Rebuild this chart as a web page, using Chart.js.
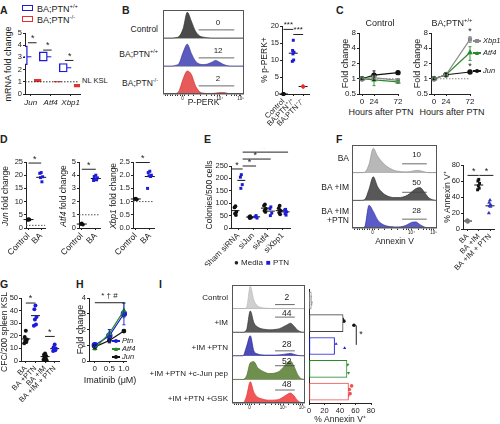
<!DOCTYPE html>
<html><head><meta charset="utf-8">
<script src="https://cdn.jsdelivr.net/npm/chart.js@4.4.1/dist/chart.umd.min.js"></script>
<style>
body{margin:0;width:500px;height:424px;position:relative;background:#fff;font-family:'Liberation Sans',Arial,sans-serif;color:#222;overflow:hidden}
canvas{position:absolute}
.t{position:absolute;white-space:nowrap;font-size:7px;line-height:1}
sup{font-size:65%;vertical-align:top;position:relative;top:-1px}
</style></head><body>
<script>
// ===== DATA =====
// A
const aGenes = ['Jun','Atf4','Xbp1'];
const aWtLow = [2.4, 2.7, 1.8];
const aWtHigh = [3.95, 3.45, 2.5];
const aWtMean = [3.05, 3.05, 2.15];
const aKoLow = [1.0, 0.96, 0.55];
const aKoHigh = [1.2, 1.04, 0.8];
// B
const bGroups = ['Control','BA;PTN\u207A/\u207A','BA;PTN\u207B/\u207B'];
const bCtrl = [0,0,0,0,0];
const bWt = [15.8,12.8,12.3,11.8,10,9.6];
const bKo = [2.3,2.2,2.1];
const bMeans = [0,12,2.2];
const bPct = ['0','12','2'];
const histBins = [0,5,10,15,20,25,30,35,40,45,50,55,60,65,70,75,80,85,90,95,100];
const bHistCtrl = [0,0,0,0.01,0.06,0.35,0.92,0.6,0.25,0.08,0.03,0.01,0,0,0,0,0,0,0,0,0];
const bHistWt   = [0,0,0,0.02,0.1,0.5,0.78,0.45,0.18,0.07,0.05,0.07,0.13,0.2,0.13,0.05,0.01,0,0,0,0];
const bHistKo   = [0,0,0,0.01,0.12,0.55,0.82,0.7,0.3,0.09,0.03,0.02,0.02,0.03,0.05,0.05,0.02,0,0,0,0];
// C
const cHours = [0,24,72];
const cTicks = [0.5,1,2,4,8];
const cCtrlXbp1 = [1.0,1.05,0.93], cCtrlXbp1Err = [0.03,0.1,0.08];
const cCtrlAtf4 = [1.0,0.95,0.87], cCtrlAtf4Err = [0.03,0.22,0.06];
const cCtrlJun  = [1.0,1.18,1.32], cCtrlJunErr  = [0.03,0.25,0.06];
const cBaXbp1 = [1.0,1.2,6.0], cBaXbp1Err = [0.03,0.1,0.8];
const cBaAtf4 = [1.0,1.2,3.3], cBaAtf4Err = [0.03,0.1,1.0];
const cBaJun  = [1.0,1.2,1.36], cBaJunErr = [0.03,0.08,0.06];
// D
const dGroups = ['Control','BA'];
const dJunCtrl = [3.4,3.2,3.1,3.0,3.3], dJunBA = [21,20.7,19.4,19.1,17.5], dJunMean = [3.2,19.2];
const dAtf4Ctrl = [0.35,0.3,0.25,0.3,0.28], dAtf4BA = [4.0,3.9,3.8,3.7,3.65,3.6], dAtf4Mean = [0.3,3.75];
const dXbp1Ctrl = [1.12,1.1,1.08,1.1,1.09], dXbp1BA = [2.15,2.1,2.0,1.98,1.95,1.5], dXbp1Mean = [1.1,1.95];
// E
const eGroups = ['Sham siRNA','siJun','siAtf4','siXbp1'];
const eMedia = [[88,83,65,58,52],[48,45,42,40],[95,90,78,70,65],[90,80,70,62,55]];
const ePtn = [[215,205,175,160],[50,45,40],[85,78,60,50],[75,72,65,58,52]];
const eMediaMean = [70,44,80,70];
const ePtnMean = [192,45,68,65];
// F
const fPct = ['10','50','28'];
const fHistBA  = [0,0,0,0.02,0.3,0.88,0.6,0.4,0.25,0.15,0.08,0.05,0.03,0.03,0.05,0.08,0.07,0.03,0,0,0];
const fHistIM  = [0,0,0,0.03,0.4,0.85,0.5,0.3,0.18,0.12,0.1,0.1,0.12,0.18,0.3,0.42,0.46,0.3,0.1,0.02,0];
const fHistPTN = [0,0,0,0.05,0.82,0.6,0.3,0.15,0.08,0.05,0.04,0.04,0.06,0.12,0.2,0.22,0.12,0.04,0,0,0];
const fGroups = ['BA','BA +IM','BA +IM + PTN'];
const fBA = [11,10.5,10,9.5,9], fIM = [62,60,57,54,51,49], fPTN = [36,33,30,29,28,20];
const fMeans = [10,55,29];
// G
const gGroups = ['BA','BA +PTN','BA +IM','BA +IM + PTN'];
const gVals = [[24,19,17,16,15,14],[44,41,35,33,29,28],[6,5,4,3,2,1,0.5],[13,11,10,9,8.5,8]];
const gMeans = [17.5,36,3.5,9.8];
// H
const hDose = [0,0.5,1];
const hPtn = [1.0,1.6,3.0], hPtnErr = [0.15,0.4,0.7];
const hAtf4 = [0.8,1.75,3.2], hAtf4Err = [0.1,0.25,0.45];
const hJun = [0.9,1.3,1.9], hJunErr = [0.12,0.15,0.08];
// I
const iGroups = ['Control','+IM','+IM +PTN','+IM +PTN +c-Jun pep','+IM +PTN +GSK'];
const iPct = ['2','44','28','52','48'];
const iMeans = [3,44,33,49,51];
const iPts = [[2,2.5,3,2,3.5],[40,43,38,45,58],[30,29,30,35,46],[42,50,51],[46,48,50,52,53,55,48]];
const iHistCtrl = [0,0,0,0,0.05,0.95,0.35,0.12,0.05,0.02,0.01,0,0,0,0,0,0,0,0,0,0];
const iHistIM   = [0,0,0,0,0.1,0.9,0.4,0.22,0.15,0.12,0.1,0.1,0.12,0.15,0.22,0.3,0.38,0.25,0.08,0.01,0];
const iHistPTN  = [0,0,0,0,0.4,0.85,0.2,0.08,0.04,0.03,0.03,0.03,0.03,0.04,0.06,0.08,0.1,0.06,0.02,0,0];
const iHistJun  = [0,0,0,0,0.15,0.7,0.75,0.5,0.38,0.3,0.25,0.25,0.28,0.35,0.5,0.68,0.78,0.55,0.2,0.03,0];
const iHistGSK  = [0,0,0,0,0.3,0.9,0.45,0.25,0.18,0.14,0.12,0.12,0.13,0.16,0.25,0.35,0.42,0.3,0.1,0.02,0];
// flow axis ticks
const histTickVals = [3,6,9,12,15,18,21,24,27,31,38,46,54,60,64,67,70,78,84,88,91,94,96];
const histTickText = {24:'0',70:'10\u2074',96:'10\u2075'};

// ===== SETUP =====
const FF = "'Liberation Sans', Arial, sans-serif";
Chart.defaults.font.family = FF;
Chart.defaults.font.size = 7.5;
Chart.defaults.color = '#222';
Chart.defaults.animation = false;
Chart.defaults.plugins.legend.display = false;
Chart.defaults.plugins.tooltip.enabled = false;
const AX = '#222';
const BLUE = '#1c1cd8', RED = '#e53030', GREEN = '#2a8a2a', GRAY = '#8a8a8a';
const TK = 7.5, TT = 8.5;

const annot = {
  id:'annot',
  afterDatasetsDraw(chart, args, o){
    const ctx = chart.ctx, xs = chart.scales.x, ys = chart.scales.y;
    ctx.save();
    chart.data.datasets.forEach(d=>{
      if(!d.err) return;
      d.data.forEach((p,k)=>{
        const e = d.err[k]; if(!e) return;
        const x = xs.getPixelForValue(p.x), y1 = ys.getPixelForValue(p.y-e), y2 = ys.getPixelForValue(p.y+e);
        ctx.strokeStyle = d.borderColor; ctx.lineWidth = 0.9; ctx.beginPath();
        ctx.moveTo(x,y1); ctx.lineTo(x,y2);
        ctx.moveTo(x-1.5,y1); ctx.lineTo(x+1.5,y1);
        ctx.moveTo(x-1.5,y2); ctx.lineTo(x+1.5,y2); ctx.stroke();
      });
    });
    (o.lines||[]).forEach(l=>{
      ctx.beginPath(); ctx.strokeStyle = l.c||'#222'; ctx.lineWidth = l.w||1; ctx.setLineDash(l.dash||[]);
      ctx.moveTo(xs.getPixelForValue(l.x1), ys.getPixelForValue(l.y1));
      ctx.lineTo(xs.getPixelForValue(l.x2), ys.getPixelForValue(l.y2)); ctx.stroke();
    });
    ctx.setLineDash([]);
    (o.texts||[]).forEach(t=>{
      ctx.fillStyle = t.c||'#222'; ctx.font = (t.style||'')+' '+(t.size||8)+'px '+FF;
      ctx.textAlign = t.align||'center'; ctx.textBaseline = 'middle';
      ctx.fillText(t.t, xs.getPixelForValue(t.x), ys.getPixelForValue(t.y));
    });
    if(o.frame){ const a = chart.chartArea; ctx.strokeStyle = '#555'; ctx.lineWidth = 1;
      ctx.strokeRect(a.left+0.5, a.top+0.5, a.right-a.left-1, a.bottom-a.top-1); }
    ctx.restore();
  }
};
Chart.register(annot);

function fitter(w,h){ return s=>{ if(s.isHorizontal()) s.height = h; else s.width = w;
  s.paddingLeft = 0; s.paddingRight = 0; s.paddingTop = 0; s.paddingBottom = 0; }; }

function chartAt(L,T,R,B,o,cfg){
  const yw = o.yw||0, xh = o.xh||0, et = o.et||0, er = o.er||0, el = o.el||0;
  const c = document.createElement('canvas');
  const w = Math.round(R-L+yw+er+el), h = Math.round(B-T+xh+et);
  c.width = w; c.height = h;
  c.style.left = (L-yw-el)+'px'; c.style.top = (T-et)+'px'; c.style.width = w+'px'; c.style.height = h+'px';
  document.body.appendChild(c);
  cfg.options = cfg.options||{};
  cfg.options.responsive = false;
  cfg.options.devicePixelRatio = 1;
  cfg.options.layout = {padding:{top:et,right:er,left:el,bottom:0}};
  for(const k in cfg.options.scales){
    const s = cfg.options.scales[k];
    s.afterFit = fitter(yw,xh);
    s.offset = false;
    s.grid = Object.assign({}, s.grid||{}, {offset:false});
  }
  return new Chart(c,cfg);
}

function yLin(min,max,step,title,extra){
  return Object.assign({type:'linear',min,max,
    border:{display:true,color:AX,width:1},
    grid:{drawOnChartArea:false,drawTicks:true,tickLength:2,color:AX},
    ticks:{stepSize:step,padding:1,font:{size:TK}},
    title:{display:!!title,text:title||'',padding:0,font:{size:TT}}}, extra||{});
}
function xCat(cats,min,max,rot,extra,fs){
  return Object.assign({type:'linear',min,max,
    border:{display:true,color:AX,width:1},
    grid:{drawOnChartArea:false,tickLength:2,color:AX},
    afterBuildTicks:s=>{ s.ticks = cats.map((c,i)=>({value:i})); },
    ticks:{autoSkip:false,maxRotation:rot,minRotation:rot,padding:1,font:{size:fs||TK},callback:v=>cats[v]??''}}, extra||{});
}
const jit = [0,-0.14,0.14,-0.07,0.07,-0.2,0.2];
function pts(vals,i,s){ return vals.map((v,j)=>({x:i+jit[j%jit.length]*s, y:v})); }
function sc(data,color,style,r,extra){
  return Object.assign({type:'scatter',data,pointStyle:style,pointRadius:r,backgroundColor:color,borderColor:color,pointBorderWidth:0,clip:false},extra||{});
}
function meanDs(means,color,off,r){
  return {type:'scatter',data:means.map((m,i)=>({x:i+(off||0),y:m})),pointStyle:'line',pointRadius:r||5,borderColor:color,pointBorderWidth:1,clip:false};
}
function T(x,y,html,o){
  o = o||{};
  const d = document.createElement('div'); d.className = 't'; d.innerHTML = html;
  d.style.left = x+'px'; d.style.top = y+'px';
  const a = o.a||'l';
  d.style.transform = `translate(${a==='r'?'-100%':a==='c'?'-50%':'0'},-50%)` + (o.rot?` rotate(${o.rot}deg)`:'');
  if(o.fs) d.style.fontSize = o.fs+'px';
  if(o.b) d.style.fontWeight = 'bold';
  if(o.i) d.style.fontStyle = 'italic';
  if(o.c) d.style.color = o.c;
  document.body.appendChild(d); return d;
}
function VT(x,y,html,fs){ return T(x,y,html,{a:'c',rot:-90,fs:fs||8.5}); }
function box(x,y,w,h,css){ const d = document.createElement('div'); d.style.cssText = `position:absolute;left:${x}px;top:${y}px;width:${w}px;height:${h}px;${css}`; document.body.appendChild(d); return d; }
function legLine(x,y,color,shape,label){
  box(x,y-0.6,8,1.2,`background:${color}`);
  if(shape==='circle') box(x+2,y-2,4,4,`background:${color};border-radius:50%`);
  if(shape==='square') box(x+2,y-2,4,4,`background:${color}`);
  if(shape==='tri') box(x+1.5,y-2.5,0,0,`border-left:2.5px solid transparent;border-right:2.5px solid transparent;border-bottom:4.5px solid ${color}`);
  T(x+10,y,label,{i:true,fs:7.5});
}

function hist(L,T0,R,B,o,curves,fills,edges,title,pcts,numY,gateY){
  const n = curves.length, ds = [], lines = [], texts = [];
  curves.forEach((cv,r)=>{ const base = n-1-r;
    ds.push({type:'line',data:cv.map((h,i)=>({x:histBins[i],y:base+h})),fill:{value:base},
      backgroundColor:fills[r],borderColor:edges[r],borderWidth:0.7,pointRadius:0,cubicInterpolationMode:'monotone'}); });
  pcts.forEach((p,r)=>{ const base = n-1-r;
    lines.push({x1:o.gx1,x2:o.gx2,y1:base+gateY[r],y2:base+gateY[r],c:'#444',w:0.8});
    texts.push({x:o.tx,y:base+numY[r],t:p,size:o.fs||8}); });
  return chartAt(L,T0,R,B,{yw:0,xh:o.xh,er:4},{type:'line',data:{datasets:ds},options:{scales:{
    x:{type:'linear',min:0,max:100,border:{display:false},
       grid:{drawOnChartArea:false,tickLength:2,color:'#333'},
       afterBuildTicks:s=>{ s.ticks = histTickVals.map(v=>({value:v})); },
       ticks:{autoSkip:false,maxRotation:0,padding:0,font:{size:4.5},callback:v=>histTickText[v]||''},
       title:{display:!!title,text:title,padding:0,font:{size:TT}}},
    y:{type:'linear',min:0,max:n,ticks:{display:false,stepSize:1},grid:{color:'#999',drawTicks:false,lineWidth:0.8},border:{display:false}}},
    plugins:{annot:{frame:true,lines,texts}}}});
}

// ===== PANEL LETTERS =====
[['A',0,10],['B',122,10],['C',336,10],['D',0,139],['E',204,139],['F',336,139],['G',0,284],['H',76,284],['I',159,284]]
  .forEach(([s,x,y])=>T(x,y,s,{fs:10.5,b:true}));

// ===== A =====
box(22,5,9,4,`border:1.6px solid ${BLUE}`);
box(22,16,9,4,`border:1.6px solid ${RED}`);
T(37,9,'BA;PTN<sup>+/+</sup>',{fs:9});
T(37,20,'BA;PTN<sup>-/-</sup>',{fs:9});
T(82,81,'NL KSL',{fs:7.5});
VT(8,64,'mRNA fold change',9);
chartAt(25,33,83,94,{yw:14,xh:13,et:12,er:2},{type:'bar',data:{datasets:[
  {type:'bar',data:aGenes.map((g,i)=>({x:i-0.17,y:[aWtLow[i],aWtHigh[i]]})),backgroundColor:'#fff',borderColor:BLUE,borderWidth:1.4,barThickness:8,borderSkipped:false},
  {type:'bar',data:aGenes.map((g,i)=>({x:i+0.17,y:[aKoLow[i],aKoHigh[i]]})),backgroundColor:RED,borderColor:RED,borderWidth:1,barThickness:7,borderSkipped:false},
  meanDs(aWtMean,BLUE,-0.17,4)
]},options:{scales:{
  x:xCat(aGenes,-0.29,2.47,0,{ticks:{autoSkip:false,maxRotation:0,minRotation:0,padding:2,font:{size:8,style:'italic'},callback:v=>aGenes[v]??''}}),
  y:yLin(0,5,1,null)},
  plugins:{annot:{lines:[
    {x1:-0.29,x2:2.4,y1:1,y2:1,dash:[1.5,1.5],c:'#333'},
    {x1:-0.14,x2:0.29,y1:4.2,y2:4.2},{x1:0.62,x2:1.05,y1:3.6,y2:3.6},{x1:1.71,x2:2.14,y1:2.75,y2:2.75}],
    texts:[{x:0.1,y:4.55,t:'*',size:9},{x:0.85,y:3.95,t:'*',size:9},{x:1.95,y:3.1,t:'*',size:9}]}}}});

// ===== B =====
hist(163,10,244,94,{xh:14,gx1:44,gx2:88,tx:68},[bHistCtrl,bHistWt,bHistKo],
  ['#4a4a4a','#5a5abf','#e85a5a'],['#333','#3a3a99','#cc3333'],'P-PERK',bPct,[0.55,0.55,0.55],[0.29,0.29,0.29]);
T(158,29,'Control',{a:'r',fs:8.5});
T(158,54,'BA;PTN<sup>+/+</sup>',{a:'r',fs:8.5});
T(158,83,'BA;PTN<sup>-/-</sup>',{a:'r',fs:8.5});
chartAt(282,26,312,94,{yw:22,xh:36,et:12,er:3,el:6},{type:'scatter',data:{datasets:[
  sc(pts(bCtrl,0,0.5),'#111','circle',1.8),
  sc(pts(bWt,1,0.5),BLUE,'rect',2.1),
  sc(pts(bKo,2,0.3),RED,'rectRot',2.2),
  meanDs(bMeans,'#111',0,4.5)
]},options:{scales:{x:xCat(bGroups,-0.15,2.65,45),y:yLin(0,20,5,'% p-PERK+')},
  plugins:{annot:{lines:[{x1:0,x2:1,y1:19,y2:19},{x1:1,x2:2,y1:17.5,y2:17.5}],
    texts:[{x:0.5,y:20.4,t:'***',size:8},{x:1.5,y:18.9,t:'***',size:8}]}}}});

// ===== C =====
function cChart(L,xbp,xbpE,atf,atfE,jun,junE,stars){
  const mk = (v,e,col,st,rot)=>({type:'line',data:cHours.map((h,i)=>({x:h,y:v[i]})),err:e,borderColor:col,backgroundColor:col,
     borderWidth:1.2,pointStyle:st,pointRadius:2.1,pointRotation:rot||0,clip:false});
  return chartAt(L,33,L+39,94,{yw:19,xh:12,et:8,er:6},{type:'line',data:{datasets:[
    mk(xbp,xbpE,GRAY,'rect'), mk(atf,atfE,GREEN,'triangle'), mk(jun,junE,'#111','circle')]},
    options:{scales:{
      x:{type:'linear',min:-6,max:72,border:{display:true,color:AX},grid:{drawOnChartArea:false,tickLength:2,color:AX},
         afterBuildTicks:s=>{ s.ticks = cHours.map(v=>({value:v})); },
         ticks:{autoSkip:false,maxRotation:0,padding:1,font:{size:8}}},
      y:yLin(0.5,8,1,'Fold change',{type:'logarithmic',afterBuildTicks:s=>{ s.ticks = cTicks.map(v=>({value:v})); },
         ticks:{padding:1,font:{size:8},callback:v=>String(v)},title:{display:true,text:'Fold change',padding:0,font:{size:9}}})},
      plugins:{annot:{lines:[{x1:-6,x2:72,y1:1,y2:1,dash:[1.5,1.5],c:'#888'}],texts:stars}}}});
}
cChart(359,cCtrlXbp1,cCtrlXbp1Err,cCtrlAtf4,cCtrlAtf4Err,cCtrlJun,cCtrlJunErr,[]);
cChart(431,cBaXbp1,cBaXbp1Err,cBaAtf4,cBaAtf4Err,cBaJun,cBaJunErr,[{x:72,y:8.6,t:'*',size:9},{x:72,y:1.75,t:'*',size:9}]);
T(380,23,'Control',{a:'c',fs:9});
T(452,23,'BA;PTN<sup>+/+</sup>',{a:'c',fs:9});
T(381,112,'Hours after PTN',{a:'c',fs:9});
T(452,112,'Hours after PTN',{a:'c',fs:9});
legLine(473,41,GRAY,'square','Xbp1');
legLine(473,53,GREEN,'tri','Atf4');
legLine(473,71,'#111','circle','Jun');

// ===== D =====
function dChart(L,R,ctrl,ba,means,max,step,starY,dec){
  return chartAt(L,162,R,228,{yw:16,xh:32,et:8,er:3,el:14},{type:'scatter',data:{datasets:[
    sc(pts(ctrl,0,0.6),'#111','circle',1.8),
    sc(pts(ba,1,0.8),BLUE,'rect',2.1),
    meanDs(means,'#111',0,5)]},
    options:{scales:{x:xCat(dGroups,-0.2,1.3,45,null,8.5),
      y:yLin(0,max,step,null,{ticks:{stepSize:step,padding:1,font:{size:TK},callback:v=>dec?v.toFixed(1):v}})},
      plugins:{annot:{lines:[{x1:-0.2,x2:1.3,y1:1,y2:1,dash:[1.5,1.5],c:'#555'},{x1:0,x2:1,y1:starY,y2:starY}],
        texts:[{x:0.5,y:starY+max*0.06,t:'*',size:9}]}}}});
}
dChart(26,48,dJunCtrl,dJunBA,dJunMean,25,5,24.6,false);
dChart(79,103,dAtf4Ctrl,dAtf4BA,dAtf4Mean,5,1,4.45,false);
dChart(133,157,dXbp1Ctrl,dXbp1BA,dXbp1Mean,2.5,0.5,2.48,true);
VT(5,196,'<i>Jun</i> fold change');
VT(63,196,'<i>Atf4</i> fold change');
VT(113,196,'<i>Xbp1</i> fold change');

// ===== E =====
{
  const ds = [];
  eGroups.forEach((g,i)=>{
    ds.push(sc(pts(eMedia[i],i-0.2,0.45),'#111','circle',1.9));
    ds.push(sc(pts(ePtn[i],i+0.2,0.45),BLUE,'rect',2.1));
  });
  ds.push(meanDs(eMediaMean,'#111',-0.2,4));
  ds.push(meanDs(ePtnMean,'#111',0.2,4));
  chartAt(231,166,292,228,{yw:17,xh:38,et:18,er:3,el:16},{type:'scatter',data:{datasets:ds},
    options:{scales:{x:xCat(eGroups,-0.5,3.5,45,null,8),
      y:yLin(0,250,50,null)},
      plugins:{annot:{lines:[
        {x1:-0.43,x2:0.29,y1:238,y2:238},{x1:0.29,x2:1.2,y1:250,y2:250},
        {x1:0.29,x2:2.19,y1:278,y2:278},{x1:0.29,x2:3.37,y1:306,y2:306}],
        texts:[{x:-0.1,y:252,t:'*',size:9},{x:0.75,y:264,t:'*',size:9},{x:1.15,y:292,t:'*',size:9},{x:1.7,y:320,t:'*',size:9}]}}}});
  VT(209,195,'Colonies/500 cells');
  T(234,263,'\u25CF Media',{fs:8});
  T(266,263,'<span style="color:'+BLUE+'">\u25A0</span> PTN',{fs:8});
}

// ===== F =====
hist(352,145,437,228,{xh:19,gx1:59,gx2:88,tx:76},[fHistBA,fHistIM,fHistPTN],
  ['#b8b8b8','#585858','#5a5ac8'],['#999','#333','#3333aa'],'Annexin V',fPct,[0.64,0.62,0.62],[0.32,0.29,0.32]);
T(349,158,'BA',{a:'r',fs:8.5});
T(349,187,'BA +IM',{a:'r',fs:8.5});
T(349,211,'BA +IM',{a:'r',fs:8.5});
T(349,220,'+PTN',{a:'r',fs:8.5});
chartAt(463,165,498,229,{yw:20,xh:42,et:10,er:2},{type:'scatter',data:{datasets:[
  sc(pts(fBA,0,0.4),'#777','circle',1.9),
  sc(pts(fIM,1,0.5),'#111','rect',2.1),
  sc(pts(fPTN,2,0.5),'#3333c0','triangle',2.3),
  meanDs(fMeans,'#111',0,4.5)]},
  options:{scales:{x:xCat(fGroups,-0.4,2.4,45),y:yLin(0,80,20,'% Annexin V\u207A')},
    plugins:{annot:{lines:[{x1:0,x2:1,y1:67,y2:67},{x1:1.05,x2:2.3,y1:67,y2:67}],
      texts:[{x:0.55,y:72,t:'*',size:9},{x:1.7,y:72,t:'*',size:9}]}}}});

// ===== G =====
{
  const ds = gVals.map((v,i)=>sc(pts(v,i,0.8),(i%2)?BLUE:'#111','circle',2));
  ds.push(meanDs(gMeans,'#111',0,4.5));
  chartAt(21,298,62,361,{yw:13,xh:46,et:10,er:3,el:8},{type:'scatter',data:{datasets:ds},
    options:{scales:{x:xCat(gGroups,-0.5,3.5,45),y:yLin(0,50,10,null)},
      plugins:{annot:{lines:[{x1:0,x2:1,y1:46,y2:46},{x1:2,x2:3,y1:19.5,y2:19.5}],
        texts:[{x:0.5,y:49.5,t:'*',size:9},{x:2.5,y:23,t:'*',size:9}]}}}});
  VT(4,332,'CFC/200 spleen KSL');
}

// ===== H =====
{
  const mk = (v,e,col,st,r)=>({type:'line',data:hDose.map((d,i)=>({x:d,y:v[i]})),err:e,borderColor:col,backgroundColor:col,
     borderWidth:1.2,pointStyle:st,pointRadius:r,clip:false});
  chartAt(89,298,128,361,{yw:14,xh:12,et:12,er:4},{type:'line',data:{datasets:[
    mk(hAtf4,hAtf4Err,GREEN,'triangle',2),mk(hJun,hJunErr,'#111','circle',1.8),mk(hPtn,hPtnErr,BLUE,'circle',2.6)]},
    options:{scales:{
      x:{type:'linear',min:-0.2,max:1.1,border:{display:true,color:AX},grid:{drawOnChartArea:false,tickLength:2,color:AX},
         afterBuildTicks:s=>{ s.ticks = hDose.map(v=>({value:v})); },
         ticks:{autoSkip:false,maxRotation:0,padding:1,font:{size:8}}},
      y:yLin(0,4,1,'Fold change',{title:{display:true,text:'Fold change',padding:0,font:{size:9}}})},
      plugins:{annot:{lines:[{x1:0,x2:1,y1:3.7,y2:3.7}],texts:[{x:0.5,y:4.15,t:'* \u2020 #',size:8}]}}}});
  T(110,380,'Imatinib (\u03BCM)',{a:'c',fs:9});
  legLine(112,341,BLUE,'circle','Ptn');
  legLine(112,349,GREEN,'tri','Atf4');
  legLine(112,357,'#111','circle','Jun');
}

// ===== I =====
hist(232,285,305,403,{xh:8,gx1:59,gx2:86,tx:75,fs:8.5},[iHistCtrl,iHistIM,iHistPTN,iHistJun,iHistGSK],
  ['#cfcfcf','#5a5a5a','#4a4ab8','#6f8f4f','#f25555'],['#bbb','#333','#2a2a99','#4f6f2f','#e03333'],'',
  iPct,[0.47,0.8,0.47,0.75,0.78],[0.17,0.64,0.21,0.58,0.55]);
[298,323,348,374,399].forEach((y,r)=>T(228,y,iGroups[r],{a:'r',fs:8}));
{
  const cols = ['#999','#444',BLUE,GREEN,'#f05050'];
  const styles = ['rect','circle','triangle','triangle','circle'];
  const rots = [0,0,0,180,0];
  const yj = [0,-0.18,0.18,-0.09,0.09,-0.25,0.25];
  const ds = [{type:'bar',indexAxis:'y',data:iMeans.map((m,i)=>({x:m,y:i})),backgroundColor:['#ddd','#fff','#fff','#fff','#fff'],
    borderColor:cols,borderWidth:1,barThickness:17,borderSkipped:false}];
  iPts.forEach((v,i)=>ds.push(sc(v.map((x,j)=>({x,y:i+yj[j%yj.length]})),i===1?'#111':cols[i],styles[i],i===0?1.3:1.8,{pointRotation:rots[i]})));
  chartAt(305,285,371,403,{yw:0,xh:22,et:0,er:6},{type:'bar',data:{datasets:ds},
    options:{scales:{
      x:yLin(0,80,20,'% Annexin V\u207A',{ticks:{stepSize:20,padding:1,font:{size:TK}},grid:{drawOnChartArea:false,tickLength:2,color:AX}}),
      y:{type:'linear',min:-0.5,max:4.5,reverse:true,ticks:{display:false},grid:{display:false},border:{display:true,color:AX}}},
      plugins:{annot:{lines:[{x1:61,x2:61,y1:1.1,y2:1.95}],texts:[{x:67,y:1.5,t:'*',size:9}]}}}});
}
</script>
</body></html>
